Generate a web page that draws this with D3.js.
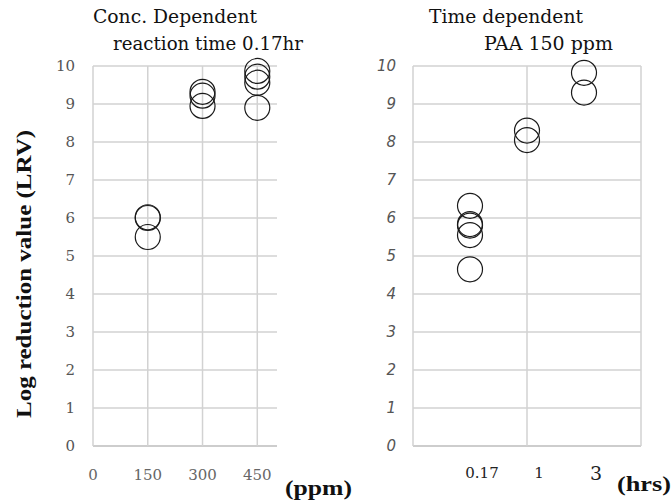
<!DOCTYPE html>
<html><head><meta charset="utf-8">
<script src="https://cdn.jsdelivr.net/npm/d3@7"></script>
<style>body{margin:0;background:#fff}svg{display:block}</style>
</head><body>
<svg id="c" width="672" height="504"></svg>
<script>
// Left panel: concentration dependent (ppm, LRV)
const concX = [150,150,150,300,300,300,450,450,450,450];
const concY = [6.0,6.02,5.5,9.32,9.22,8.95,9.87,9.72,9.56,8.9];
const concTicks = [0,150,300,450];
// Right panel: time dependent (category index, LRV)
const timeCats = ["0.17","1","3"];
const timeIdx = [1,1,1,1,1,2,2,3,3];
const timeY = [6.32,5.84,5.8,5.55,4.65,8.3,8.05,9.82,9.3];
const yTicks = [0,1,2,3,4,5,6,7,8,9,10];

const svg = d3.select("#c");
const serif = "'DejaVu Serif', serif";
const lib = "'Liberation Serif', serif";
const yScale = d3.scaleLinear().domain([0,10]).range([446,66]);
const grid = "#d2d2d2";

function label(g, x, y, txt, len, opts={}) {
  return g.append("text").attr("x",x).attr("y",y)
    .attr("font-family",opts.family||serif).attr("font-size",opts.size||17)
    .attr("font-weight",opts.weight||"normal").attr("fill","#111")
    .attr("textLength",len).attr("lengthAdjust","spacingAndGlyphs").text(txt);
}

// ---- Left panel
const xL = d3.scaleLinear().domain([0,504]).range([93,277]);
const gL = svg.append("g");
gL.selectAll("line.h").data(yTicks).join("line")
  .attr("x1",93).attr("x2",277).attr("y1",d=>yScale(d)).attr("y2",d=>yScale(d))
  .attr("stroke",d=>d===0?"#bdbdbd":grid).attr("stroke-width",1.5);
gL.selectAll("line.v").data(concTicks).join("line")
  .attr("x1",d=>xL(d)).attr("x2",d=>xL(d)).attr("y1",66).attr("y2",446)
  .attr("stroke",grid).attr("stroke-width",1.5);
gL.selectAll("text.yt").data(yTicks).join("text")
  .attr("x",75).attr("y",d=>yScale(d)+5).attr("text-anchor","end")
  .attr("font-family",serif).attr("font-size",15).attr("fill","#555").text(d=>d);
gL.selectAll("text.xt").data(concTicks).join("text")
  .attr("x",d=>xL(d)).attr("y",480).attr("text-anchor","middle")
  .attr("font-family",serif).attr("font-size",15).attr("fill","#666").text(d=>d);
gL.selectAll("circle").data(concX).join("circle")
  .attr("cx",d=>xL(d)).attr("cy",(d,i)=>yScale(concY[i])).attr("r",12.5)
  .attr("fill","none").attr("stroke","#1a1a1a").attr("stroke-width",1.2);
label(gL,93,23,"Conc. Dependent",164,{size:18});
label(gL,113,50,"reaction time 0.17hr",190,{size:18});
label(gL,285,495,"(ppm)",67,{family:lib,weight:"bold",size:20});

// ---- Right panel
const xR = d3.scaleLinear().domain([0,4]).range([413,641]);
const gR = svg.append("g");
gR.selectAll("line.h").data(yTicks).join("line")
  .attr("x1",413).attr("x2",641).attr("y1",d=>yScale(d)).attr("y2",d=>yScale(d))
  .attr("stroke",d=>d===0?"#bdbdbd":grid).attr("stroke-width",1.5);
gR.selectAll("line.v").data([0,2,4]).join("line")
  .attr("x1",d=>xR(d)).attr("x2",d=>xR(d)).attr("y1",66).attr("y2",446)
  .attr("stroke",grid).attr("stroke-width",1.5);
gR.selectAll("text.yt").data(yTicks).join("text")
  .attr("x",396).attr("y",d=>yScale(d)+5).attr("text-anchor","end")
  .attr("font-family","'DejaVu Sans', sans-serif").attr("font-style","italic")
  .attr("font-size",15).attr("fill","#555").text(d=>d);
gR.selectAll("text.xt").data(timeCats).join("text")
  .attr("x",(d,i)=>xR(i+1)+12).attr("y",(d,i)=>i===2?480:478).attr("text-anchor","middle")
  .attr("font-family",serif).attr("font-size",(d,i)=>i===2?19:15).attr("fill","#222").text(d=>d);
gR.selectAll("circle").data(timeIdx).join("circle")
  .attr("cx",d=>xR(d)).attr("cy",(d,i)=>yScale(timeY[i])).attr("r",12.5)
  .attr("fill","none").attr("stroke","#1a1a1a").attr("stroke-width",1.2);
label(gR,429,23,"Time dependent",154,{size:18});
label(gR,484,50,"PAA 150 ppm",129,{size:18});
label(gR,617,491,"(hrs)",54,{family:lib,weight:"bold",size:20});

// Y axis title
svg.append("text").attr("transform","translate(31,274) rotate(-90)").attr("text-anchor","middle")
  .attr("font-family",lib).attr("font-weight","bold").attr("font-size",20)
  .attr("fill","#111").attr("textLength",288).attr("lengthAdjust","spacingAndGlyphs")
  .text("Log reduction value (LRV)");
</script>
</body></html>
